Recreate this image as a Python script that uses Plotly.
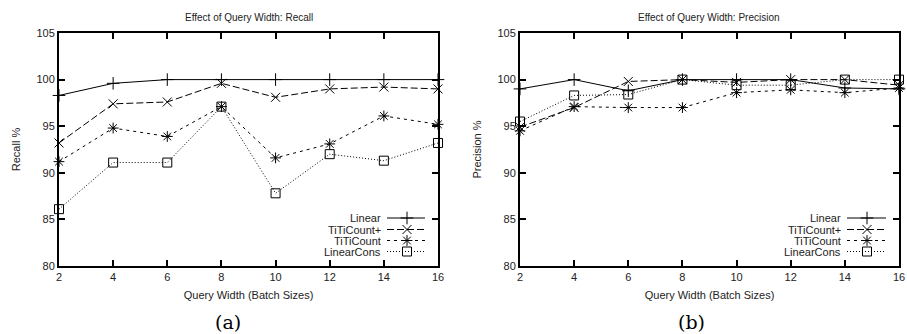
import plotly.graph_objects as go

# ---- data ----
batch_sizes = [2, 4, 6, 8, 10, 12, 14, 16]
series_names = ["Linear", "TiTiCount+", "TiTiCount", "LinearCons"]

recall_linear = [98.3, 99.6, 100.0, 100.0, 100.0, 100.0, 100.0, 100.0]
recall_titicount_plus = [93.2, 97.4, 97.6, 99.6, 98.1, 99.0, 99.2, 99.0]
recall_titicount = [91.2, 94.8, 93.9, 97.1, 91.6, 93.1, 96.1, 95.2]
recall_linearcons = [86.1, 91.1, 91.1, 97.1, 87.8, 92.0, 91.3, 93.2]

precision_linear = [99.0, 100.0, 98.8, 100.0, 100.0, 100.0, 99.1, 99.0]
precision_titicount_plus = [94.9, 97.0, 99.8, 100.0, 99.7, 100.0, 100.0, 99.4]
precision_titicount = [94.5, 97.1, 97.0, 97.0, 98.6, 98.9, 98.6, 99.1]
precision_linearcons = [95.5, 98.3, 98.4, 100.0, 99.4, 99.4, 100.0, 100.0]

x_ticks = [2, 4, 6, 8, 10, 12, 14, 16]
y_ticks = [80, 85, 90, 95, 100, 105]

# ---- styles ----
dashes = ["solid", "7px,3px", "3px,4px", "1px,2px"]
symbols = ["cross-thin-open", "x-thin-open", "asterisk-open", "square-open"]
sizes = [9, 9, 9, 9]

W, H = 907, 334
FONT = "Liberation Sans, Arial, sans-serif"

fig = go.Figure()

recall_sets = [recall_linear, recall_titicount_plus, recall_titicount, recall_linearcons]
prec_sets = [precision_linear, precision_titicount_plus, precision_titicount, precision_linearcons]

for axes, sets in (("x", recall_sets), ("x2", prec_sets)):
    yax = "y" if axes == "x" else "y2"
    for i, vals in enumerate(sets):
        fig.add_trace(go.Scatter(
            x=batch_sizes, y=vals, xaxis=axes, yaxis=yax,
            mode="lines+markers", name=series_names[i], showlegend=False,
            line=dict(color="black", width=1, dash=dashes[i]),
            marker=dict(symbol=symbols[i], size=sizes[i], color="black",
                        line=dict(color="black", width=1)),
            cliponaxis=False,
        ))

# ---- manual gnuplot-style legend keys on a pixel-space overlay axis ----
legend_rows = [218, 229.5, 240.5, 251.5]
legend_cfg = [(387, 425, 407, 383), (847, 886, 867, 843)]
for (lx0, lx1, lxm, ltxt) in legend_cfg:
    for i, name in enumerate(series_names):
        ry = legend_rows[i]
        fig.add_trace(go.Scatter(
            x=[lx0, lx1], y=[ry, ry], xaxis="x3", yaxis="y3", mode="lines",
            line=dict(color="black", width=1, dash=dashes[i]), showlegend=False,
            hoverinfo="skip"))
        fig.add_trace(go.Scatter(
            x=[lxm], y=[ry], xaxis="x3", yaxis="y3", mode="markers",
            marker=dict(symbol=symbols[i], size=sizes[i], color="black",
                        line=dict(color="black", width=1)),
            showlegend=False, hoverinfo="skip"))
        fig.add_annotation(x=ltxt / W, y=1 - ry / H, xref="paper", yref="paper",
                           text=name, showarrow=False, xanchor="right", yanchor="middle",
                           font=dict(family=FONT, size=11, color="#222"))

def px_x(a, b):
    return [a / W, b / W]

ydom = [(H - 266) / H, (H - 33) / H]

axis_common = dict(
    showgrid=False, zeroline=False, showline=True, linecolor="black", linewidth=2,
    mirror="ticks", ticks="inside", ticklen=6, tickwidth=1.5, tickcolor="black",
    tickfont=dict(family=FONT, size=11, color="#222"), automargin=False,
)
title_font = dict(family=FONT, size=11, color="#222")

fig.update_layout(
    width=W, height=H, margin=dict(l=0, r=0, t=0, b=0, autoexpand=False),
    plot_bgcolor="rgba(0,0,0,0)", paper_bgcolor="white", showlegend=False,
    xaxis=dict(domain=px_x(59, 438), range=[2, 16], tickvals=x_ticks, anchor="y",
               title=dict(text="Query Width (Batch Sizes)", font=title_font, standoff=9),
               **axis_common),
    yaxis=dict(domain=ydom, range=[80, 105], tickvals=y_ticks, anchor="x",
               title=dict(text="Recall %", font=title_font, standoff=14),
               **axis_common),
    xaxis2=dict(domain=px_x(520, 899), range=[2, 16], tickvals=x_ticks, anchor="y2",
                title=dict(text="Query Width (Batch Sizes)", font=title_font, standoff=9),
                **axis_common),
    yaxis2=dict(domain=ydom, range=[80, 105], tickvals=y_ticks, anchor="x2",
                title=dict(text="Precision %", font=title_font, standoff=14),
                **axis_common),
    xaxis3=dict(domain=[0, 1], range=[0, W], visible=False, fixedrange=True, anchor="y3",
                automargin=False),
    yaxis3=dict(domain=[0, 1], range=[H, 0], visible=False, fixedrange=True, anchor="x3",
                automargin=False),
)

# titles and sub-figure captions
fig.add_annotation(x=249 / W, y=1 - 17 / H, xref="paper", yref="paper", showarrow=False,
                   yanchor="middle", xanchor="center",
                   text="Effect of Query Width: Recall", font=dict(family=FONT, size=10, color="#222"))
fig.add_annotation(x=709 / W, y=1 - 17 / H, xref="paper", yref="paper", showarrow=False,
                   yanchor="middle", xanchor="center",
                   text="Effect of Query Width: Precision", font=dict(family=FONT, size=10, color="#222"))
fig.add_annotation(x=228 / W, y=1 - 322 / H, xref="paper", yref="paper", showarrow=False,
                   yanchor="middle", xanchor="center",
                   text="(a)", font=dict(family="DejaVu Serif, Liberation Serif, serif", size=19, color="black"))
fig.add_annotation(x=691 / W, y=1 - 322 / H, xref="paper", yref="paper", showarrow=False,
                   yanchor="middle", xanchor="center",
                   text="(b)", font=dict(family="DejaVu Serif, Liberation Serif, serif", size=19, color="black"))

fig.write_html("out.html", config={"displayModeBar": False},
               post_script="document.body.style.margin='0';document.body.style.overflow='hidden';")
